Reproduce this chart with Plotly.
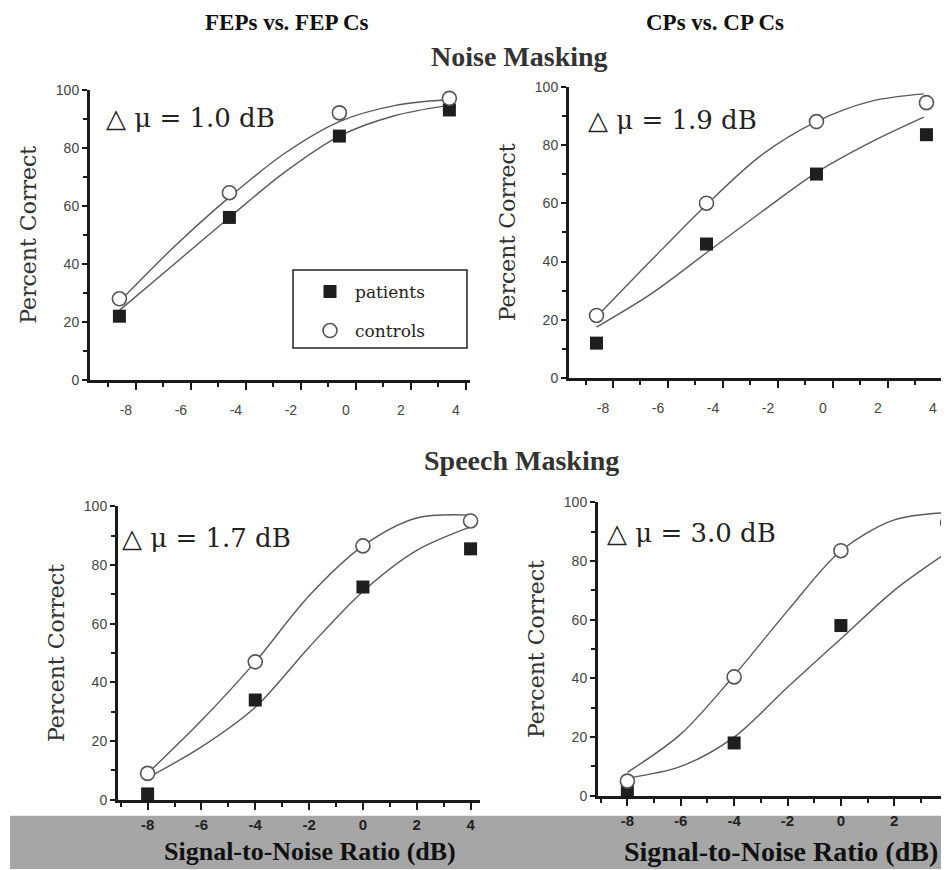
import plotly.graph_objects as go

# measured placement of the figure in the photographed window
OFFX = 8
OFFY, SY = 16.5, 0.98
W, H = 949 - OFFX, 870

# ---------------- data ----------------
# Noise masking (top row) SNR values
noise_x = [-8.6, -4.6, -0.6, 3.4]
# Speech masking (bottom row) SNR values
speech_x = [-8, -4, 0, 4]

# FEPs vs FEP Cs, noise masking
tl_patients = [22, 56, 84, 93]
tl_controls = [28, 64.5, 92, 97]
# CPs vs CP Cs, noise masking
tr_patients = [12, 46, 70, 83.5]
tr_controls = [21.5, 60, 88, 94.5]
# FEPs vs FEP Cs, speech masking
bl_patients = [2, 34, 72.5, 85.5]
bl_controls = [9, 47, 86.5, 95]
# CPs vs CP Cs, speech masking
br_patients = [2, 18, 58, 78.5]
br_controls = [5, 40.5, 83.5, 93]

# fitted curves
noise_curve_x = [-8.6, -6.6, -4.6, -2.6, -0.6, 1.4, 3.3]
speech_curve_x = [-8, -6, -4, -2, 0, 2, 4]
tl_pat_curve = [24, 40, 56, 71.5, 84, 91, 94.5]
tl_ctl_curve = [27, 46, 63, 78, 89, 94.5, 96.5]
tr_pat_curve = [17.5, 29, 43, 57, 70.5, 81, 89.5]
tr_ctl_curve = [21, 40.5, 59.5, 76.5, 88, 95, 97.5]
bl_pat_curve = [7.5, 18, 31.5, 52, 71, 85, 93]
bl_ctl_curve = [9, 27, 47, 69.5, 86.5, 96, 97]
br_pat_curve = [6, 10, 20, 37, 53.5, 70, 83]
br_ctl_curve = [8, 21, 41, 63, 83.5, 94, 96.5]

delta_labels = ["△ μ = 1.0 dB", "△ μ = 1.9 dB", "△ μ = 1.7 dB", "△ μ = 3.0 dB"]

# ---------------- helpers ----------------
def px(x):
    return (x - OFFX) / W

def py(y):
    return min(1.0, max(0.0, 1 - ((y - OFFY) / SY) / H))

SERIF = "DejaVu Serif"
TSERIF = "Liberation Serif"
CURVE = "#5a5a5a"

fig = go.Figure()

panels = [
    # (xdomain px, ydomain px, xrange, curve_x, pat_curve, ctl_curve, x, pat, ctl)
    ((90, 470), (90, 380), [-9.67, 4.15], noise_curve_x, tl_pat_curve, tl_ctl_curve, noise_x, tl_patients, tl_controls),
    ((569, 949), (87, 378), [-9.6, 4.22], noise_curve_x, tr_pat_curve, tr_ctl_curve, noise_x, tr_patients, tr_controls),
    ((118, 480), (506, 799), [-9.1, 4.35], speech_curve_x, bl_pat_curve, bl_ctl_curve, speech_x, bl_patients, bl_controls),
    ((598, 949), (502, 795), [-9.1, 4.05], speech_curve_x, br_pat_curve, br_ctl_curve, speech_x, br_patients, br_controls),
]

layout_axes = {}
for i, (xd, yd, xr, cx, pc, cc, mx, mp, mc) in enumerate(panels):
    n = i + 1
    xa = "x" if n == 1 else f"x{n}"
    ya = "y" if n == 1 else f"y{n}"
    bottom = i >= 2
    layout_axes["xaxis" if n == 1 else f"xaxis{n}"] = dict(
        domain=[px(xd[0]), min(px(xd[1]), 1.0)], range=xr, anchor=ya,
        showline=True, linecolor="#1a1a1a", linewidth=3,
        showgrid=False, zeroline=False,
        tickmode="array", tickvals=[-8, -6, -4, -2, 0, 2, 4],
        ticktext=["-8", "-6", "-4", "-2", "0", "2", "4"],
        ticks="outside", ticklen=7, tickwidth=2, tickcolor="#1a1a1a",
        minor=dict(tickvals=[-9, -7, -5, -3, -1, 1, 3], ticks="outside", ticklen=4, tickwidth=2, tickcolor="#1a1a1a"),
        ticklabelstandoff=2 if bottom else 8,
        ticklabelshift=0 if bottom else -10,
        tickfont=dict(family="Liberation Sans", size=15 if bottom else 14,
                      color="#222" if bottom else "#444",
                      weight="bold" if bottom else "normal"),
        fixedrange=True,
    )
    layout_axes["yaxis" if n == 1 else f"yaxis{n}"] = dict(
        domain=[py(yd[1]), py(yd[0])], range=[0, 100], anchor=xa,
        showline=True, linecolor="#1a1a1a", linewidth=3,
        showgrid=False, zeroline=False,
        tickvals=[0, 20, 40, 60, 80, 100],
        ticks="outside", ticklen=5, tickwidth=2, tickcolor="#1a1a1a",
        minor=dict(tickvals=[10, 30, 50, 70, 90], ticks="outside", ticklen=4, tickwidth=2, tickcolor="#1a1a1a"),
        tickfont=dict(family="Liberation Sans", size=14, color="#444"),
        title=dict(text="Percent Correct", font=dict(family=SERIF, size=22, color="#333"), standoff=14),
        fixedrange=True,
    )
    # fitted curves
    fig.add_trace(go.Scatter(x=cx, y=pc, mode="lines",
                             line=dict(color=CURVE, width=1.4, shape="spline", smoothing=0.9),
                             xaxis=xa, yaxis=ya, showlegend=False, hoverinfo="skip"))
    fig.add_trace(go.Scatter(x=cx, y=cc, mode="lines",
                             line=dict(color=CURVE, width=1.4, shape="spline", smoothing=0.9),
                             xaxis=xa, yaxis=ya, showlegend=False, hoverinfo="skip"))
    # data points
    fig.add_trace(go.Scatter(x=mx, y=mp, mode="markers", name="patients",
                             marker=dict(symbol="square", size=13, color="#1e1e1e", line=dict(width=0)),
                             xaxis=xa, yaxis=ya, showlegend=(n == 1), legendgroup="p", cliponaxis=False))
    fig.add_trace(go.Scatter(x=mx, y=mc, mode="markers", name="controls",
                             marker=dict(symbol="circle", size=14, color="white", line=dict(width=1.6, color="#555")),
                             xaxis=xa, yaxis=ya, showlegend=(n == 1), legendgroup="c", cliponaxis=False))

annotations = [
    dict(text="<b>FEPs vs. FEP Cs</b>", x=px(287), y=py(23), font=dict(family=TSERIF, size=23, color="#111")),
    dict(text="<b>CPs vs. CP Cs</b>", x=px(715), y=py(23), font=dict(family=TSERIF, size=23, color="#111")),
    dict(text="<b>Noise Masking</b>", x=px(520), y=py(57), font=dict(family=TSERIF, size=28, color="#333")),
    dict(text="<b>Speech Masking</b>", x=px(521), y=py(460), font=dict(family=TSERIF, size=28, color="#333")),
    dict(text="<b>Signal-to-Noise Ratio (dB)</b>", x=px(310), y=py(851), font=dict(family=TSERIF, size=26, color="#111")),
    dict(text="<b>Signal-to-Noise Ratio (dB)</b>", x=px(781), y=py(851), font=dict(family=TSERIF, size=28, color="#111")),
]
for a in annotations:
    a.update(xref="paper", yref="paper", showarrow=False, xanchor="center", yanchor="middle")

delta_pos = [(104, 118), (586, 120), (120, 538), (605, 533)]
for (x0, y0), t in zip(delta_pos, delta_labels):
    annotations.append(dict(text=t, x=px(x0), y=py(y0), xref="paper", yref="paper", showarrow=False,
                            xanchor="left", yanchor="middle", font=dict(family=SERIF, size=26, color="#222")))

shapes = [
    dict(type="rect", xref="paper", yref="paper", x0=px(10), x1=1, y0=py(868), y1=py(815),
         fillcolor="#a6a6a6", line=dict(width=0), layer="below"),
    # legend frame
    dict(type="rect", xref="paper", yref="paper", x0=px(293), x1=px(467), y0=py(348), y1=py(270),
         fillcolor="white", line=dict(width=1.5, color="#222"), layer="below"),
]

fig.update_layout(
    width=W, height=H, margin=dict(l=0, r=0, t=0, b=0),
    paper_bgcolor="white", plot_bgcolor="rgba(0,0,0,0)",
    annotations=annotations, shapes=shapes,
    legend=dict(x=px(305), y=py(274), xanchor="left", yanchor="top",
                bgcolor="rgba(0,0,0,0)", borderwidth=0,
                font=dict(family=SERIF, size=17, color="#222"),
                tracegroupgap=14, itemwidth=40),
    showlegend=True,
    **layout_axes,
)

fig.write_html("out.html")
